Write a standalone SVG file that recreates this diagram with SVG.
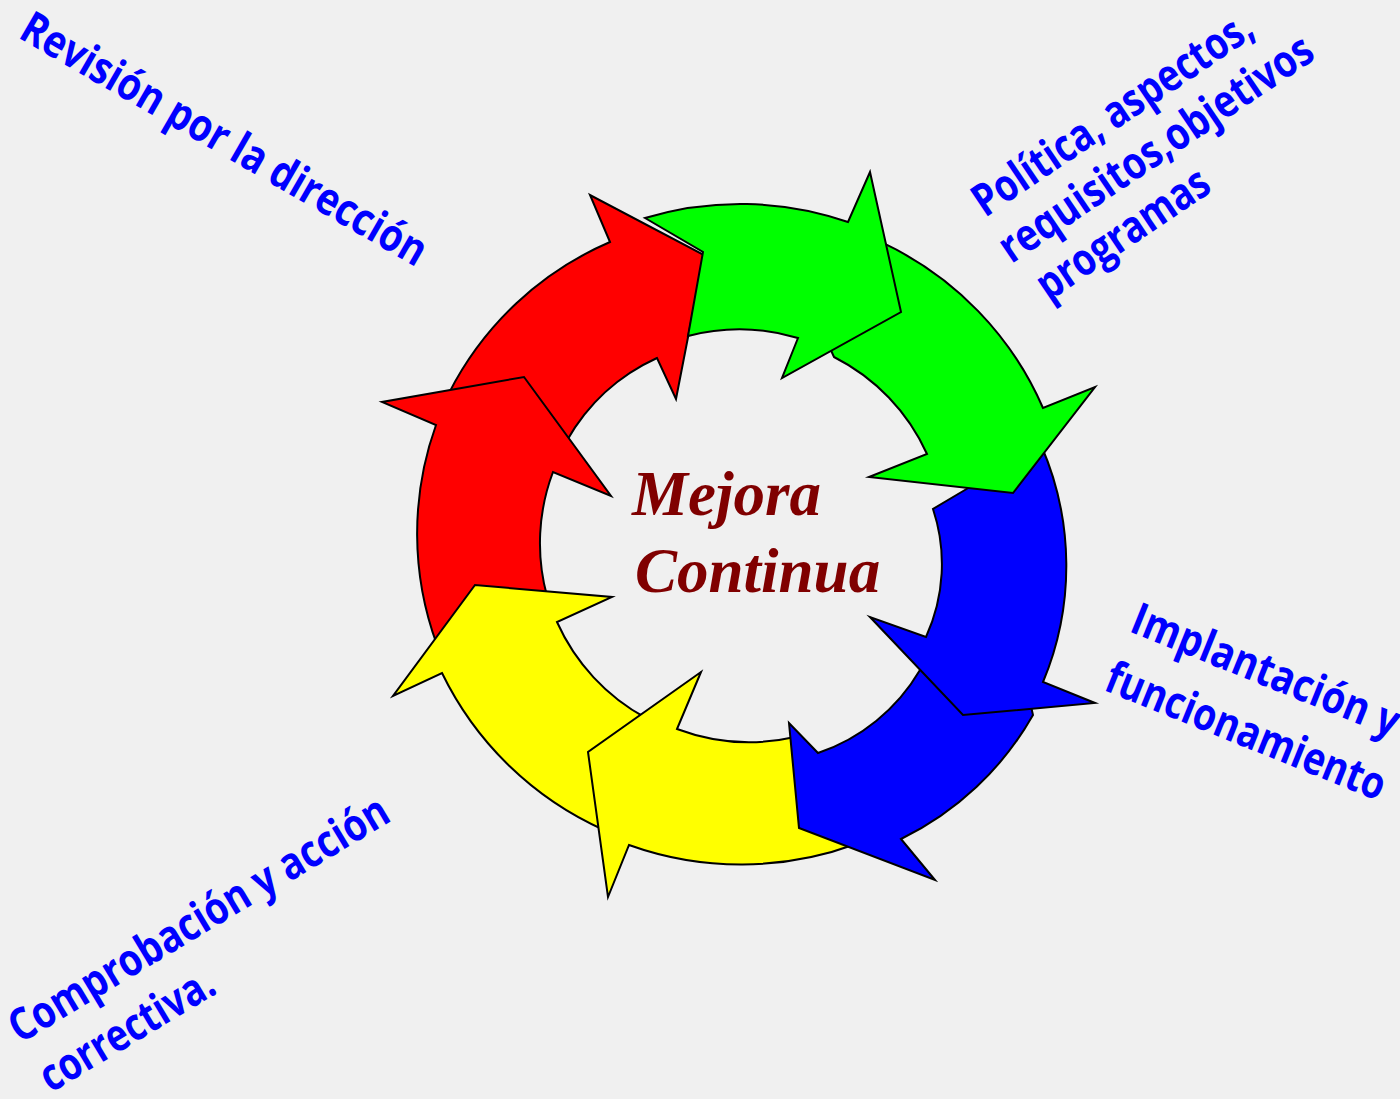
<svg xmlns="http://www.w3.org/2000/svg" width="1400" height="1099" viewBox="0 0 1400 1099">
<style>
.arr{stroke:#000;stroke-width:2;stroke-linejoin:miter;stroke-miterlimit:10}
.r{fill:#ff0000}.g{fill:#00ff00}.b{fill:#0000ff}.y{fill:#ffff00}
.lbl{font-family:"Open Sans","DejaVu Sans",sans-serif;font-weight:700;font-size:45px;fill:#0000ff}
.title{font-family:"Liberation Serif","Times New Roman",serif;font-weight:700;font-style:italic;font-size:63px;fill:#800000}
</style>
<rect width="1400" height="1099" fill="#f0f0f0"/>
<g id="cycle-arrows">
  <g id="arrow-red-1"><path class="arr r" d="M 449.2,392.6 A 324 324 0 0 1 610,242 L 590,195 L 704,255 L 676,399 L 657,358 A 197 197 0 0 0 567,440.5 Z"/></g>
  <g id="arrow-red-2"><path class="arr r" d="M 437,645 A 322 322 0 0 1 436,425 L 382,402 L 524,377 L 611,496 L 553,472 A 201 201 0 0 0 547,596 Z"/></g>
  <g id="arrow-yellow-2"><path class="arr y" d="M 604,830 A 330 330 0 0 1 442,673 L 393,696 L 475,585 L 612,597 L 557,622 A 204 204 0 0 0 646,718 Z"/></g>
  <g id="arrow-yellow-1"><path class="arr y" d="M 856,844 A 332 332 0 0 1 629,845 L 608,897 L 588,752 L 701,672 L 677,729 A 206 206 0 0 0 795,737 Z"/></g>
  <g id="arrow-blue-2"><path class="arr b" d="M 1033,715 A 305 305 0 0 1 901,839 L 935,880 L 799,828 L 789,723 L 818,753 A 188 188 0 0 0 920,670 L 926,667 L 1030,702 Z"/></g>
  <g id="arrow-blue-1"><path class="arr b" d="M 1041,445 A 301 301 0 0 1 1043,682 L 1095,703 L 963,715 L 870,617 L 926,637 A 175 175 0 0 0 933,509 L 975,484 Z"/></g>
  <g id="arrow-green-2"><path class="arr g" d="M 883.4,243.2 A 326 326 0 0 1 1043,408 L 1095,387 L 1013,493 L 869,477 L 927,454 A 202 202 0 0 0 834,357 L 829,346 Z"/></g>
  <g id="arrow-green-1"><path class="arr g" d="M 645,218 L 703,252 L 688,336 A 205 205 0 0 1 798,338 L 782,378 L 901,312 L 870,172 L 848,222 A 330 330 0 0 0 645,218 Z"/></g>
</g>
<g id="title">
  <text class="title" x="632" y="515">Mejora</text>
  <text class="title" x="635" y="592">Continua</text>
</g>
<g id="label-revision">
  <text class="lbl" transform="translate(17,37) rotate(30)" textLength="461" lengthAdjust="spacingAndGlyphs">Revisión por la dirección</text>
</g>
<g id="label-politica" transform="translate(985,218) rotate(-34)">
  <text class="lbl" x="0" y="0" textLength="328" lengthAdjust="spacingAndGlyphs">Política, aspectos,</text>
  <text class="lbl" x="-4" y="53" textLength="369" lengthAdjust="spacingAndGlyphs">requisitos,objetivos</text>
  <text class="lbl" x="6" y="105" textLength="199" lengthAdjust="spacingAndGlyphs">programas</text>
</g>
<g id="label-implantacion" transform="translate(1128,631) rotate(22)">
  <text class="lbl" x="0" y="0" textLength="285" lengthAdjust="spacingAndGlyphs">Implantación y</text>
  <text class="lbl" x="-2" y="64" textLength="298" lengthAdjust="spacingAndGlyphs">funcionamiento</text>
</g>
<g id="label-comprobacion" transform="translate(20,1044) rotate(-31)">
  <text class="lbl" x="0" y="0" textLength="435" lengthAdjust="spacingAndGlyphs">Comprobación y acción</text>
  <text class="lbl" x="1" y="58" textLength="196" lengthAdjust="spacingAndGlyphs">correctiva.</text>
</g>
</svg>
